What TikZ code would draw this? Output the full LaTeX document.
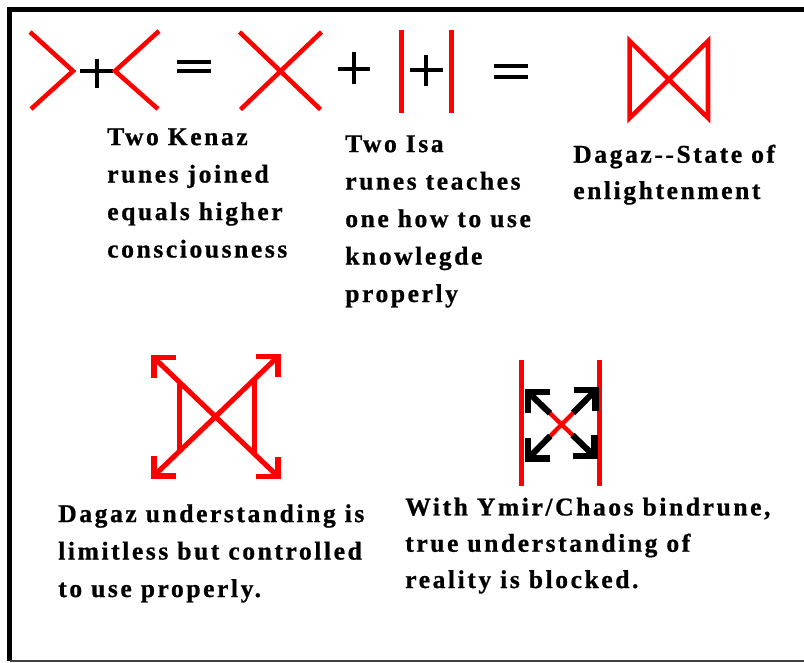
\documentclass[tikz,border=0pt]{standalone}
\usepackage{fontspec}
\usetikzlibrary{calc}
\setmainfont{Liberation Serif}
\newfontfamily\lblfamily[LetterSpace=10, BoldFeatures={FakeBold=0.8}]{Liberation Serif}
\begin{document}
\begin{tikzpicture}[x=0.75pt,y=-0.75pt,
  rune/.style={draw=red, line width=3.4pt, line join=miter},
  isa/.style={draw=red, line width=4pt},
  sym/.style={draw=black, line width=3pt},
  frame/.style={draw=black, line width=3.2pt},
  redhead/.style={draw=red, line width=4.2pt, line join=miter},
  blackhead/.style={draw=black, line width=4.6pt, line join=miter},
  lbl/.style={anchor=base west, align=left, inner sep=0pt,
    font=\lblfamily\bfseries\fontsize{19.2}{28.1}\selectfont},
  lbltight/.style={lbl, font=\lblfamily\bfseries\fontsize{19.2}{27.2}\selectfont}]
\useasboundingbox (0,0) rectangle (804,662);
% frame
\draw[frame] (9.5,661) -- (9.5,9.5) -- (806,9.5);
\draw[draw=black!75, line width=1.5pt] (9.5,661) -- (806,661);

% top row: Kenaz + Kenaz = X + Isa + Isa = Dagaz
\coordinate (k1a) at (30,32);   \coordinate (k1v) at (73,71);   \coordinate (k1b) at (31,109);
\draw[rune] (k1a) -- (k1v) -- (k1b);
\coordinate (p1l) at (80,71); \coordinate (p1r) at (113,71);
\coordinate (p1t) at (96.5,59); \coordinate (p1b) at (96.5,88);
\draw[sym] (p1l) -- (p1r) (p1t) -- (p1b);
\coordinate (k2a) at (159,31);  \coordinate (k2v) at (115,71);  \coordinate (k2b) at (158,109);
\draw[rune] (k2a) -- (k2v) -- (k2b);
\coordinate (e1a) at (176.5,61.7); \coordinate (e1b) at (211,61.7);
\coordinate (e1c) at (176.5,70.8); \coordinate (e1d) at (211,70.8);
\draw[sym] (e1a) -- (e1b) (e1c) -- (e1d);
\coordinate (xa) at (239.5,32); \coordinate (xb) at (320.5,109.5);
\coordinate (xc) at (321.5,32); \coordinate (xd) at (240.5,109.5);
\draw[rune] (xa) -- (xb) (xc) -- (xd);
\coordinate (p2l) at (338,68.5); \coordinate (p2r) at (370,68.5);
\coordinate (p2t) at (354.3,52); \coordinate (p2b) at (354.3,83.5);
\draw[sym] (p2l) -- (p2r) (p2t) -- (p2b);
\coordinate (i1t) at (401.7,30); \coordinate (i1b) at (401.7,113.3);
\draw[isa] (i1t) -- (i1b);
\coordinate (p3l) at (410,69.5); \coordinate (p3r) at (442.7,69.5);
\coordinate (p3t) at (425.8,55); \coordinate (p3b) at (425.8,86);
\draw[sym] (p3l) -- (p3r) (p3t) -- (p3b);
\coordinate (i2t) at (451.3,30); \coordinate (i2b) at (451.3,113.3);
\draw[isa] (i2t) -- (i2b);
\coordinate (e2a) at (494.3,65.5); \coordinate (e2b) at (528.3,65.5);
\coordinate (e2c) at (494.3,76.5); \coordinate (e2d) at (528.3,76.5);
\draw[sym] (e2a) -- (e2b) (e2c) -- (e2d);
\coordinate (dtl) at (629.7,41); \coordinate (dbl) at (629.7,118);
\coordinate (dtr) at (708,41);   \coordinate (dbr) at (708,118);
\draw[rune] (dtl) -- (dbl) -- (dtr) -- (dbr) -- cycle;

% texts of the top row (anchor = baseline of the last line)
\node[lbl] (kenaz) at (107,257.5) {Two Kenaz\\runes joined\\equals higher\\consciousness};
\node[lbl] (isa) at (345,302) {Two Isa\\runes teaches\\one how to use\\knowlegde\\properly};
\node[lbltight] (dagaz) at (573,199) {Dagaz-{}-State of\\enlightenment};

% bottom left: Dagaz with four arrows
\coordinate (atl) at (153.7,357.5); \coordinate (abr) at (278,476.5);
\coordinate (atr) at (278,356.5);   \coordinate (abl) at (153.7,476);
\draw[rune, line width=3.8pt] (atl) -- (abr) (atr) -- (abl);
\draw[rune, line width=3.8pt] (179.5,382.2) -- (179.5,451.2);
\draw[rune, line width=3.8pt] (254.5,379.1) -- (254.5,454.0);
\draw[redhead] ($(atl)+(22,0)$) -- (atl) -- ($(atl)+(0,20)$);
\draw[redhead] ($(atr)+(-22,0)$) -- (atr) -- ($(atr)+(0,20)$);
\draw[redhead] ($(abl)+(22,0)$) -- (abl) -- ($(abl)+(0,-20)$);
\draw[redhead] ($(abr)+(-22,0)$) -- (abr) -- ($(abr)+(0,-20)$);

% bottom right: Dagaz blocked between two Isa
\coordinate (yl1) at (521.3,360); \coordinate (yl2) at (521.3,486);
\coordinate (yr1) at (599.2,360); \coordinate (yr2) at (599.2,486);
\draw[isa] (yl1) -- (yl2) (yr1) -- (yr2);
\coordinate (btl) at (528,392);   \coordinate (bbr) at (594.5,456.3);
\coordinate (btr) at (595.5,390.3); \coordinate (bbl) at (528,458.5);
\draw[draw=red, line width=3.2pt] (btl) -- (bbr) (btr) -- (bbl);
\draw[blackhead] (btl) -- ($(btl)!0.33!(bbr)$);
\draw[blackhead] (bbr) -- ($(bbr)!0.33!(btl)$);
\draw[blackhead] (btr) -- ($(btr)!0.33!(bbl)$);
\draw[blackhead] (bbl) -- ($(bbl)!0.33!(btr)$);
\draw[blackhead] ($(btl)+(22,0)$) -- (btl) -- ($(btl)+(0,21)$);
\draw[blackhead] ($(btr)+(-22,0)$) -- (btr) -- ($(btr)+(0,21)$);
\draw[blackhead] ($(bbl)+(22,0)$) -- (bbl) -- ($(bbl)+(0,-21)$);
\draw[blackhead] ($(bbr)+(-22,0)$) -- (bbr) -- ($(bbr)+(0,-21)$);

% bottom texts
\node[lbl] (limitless) at (58,597) {Dagaz understanding is\\limitless but controlled\\to use properly.};
\node[lbltight] (blocked) at (405,588) {With Ymir/Chaos bindrune,\\true understanding of\\reality is blocked.};
\end{tikzpicture}
\end{document}
